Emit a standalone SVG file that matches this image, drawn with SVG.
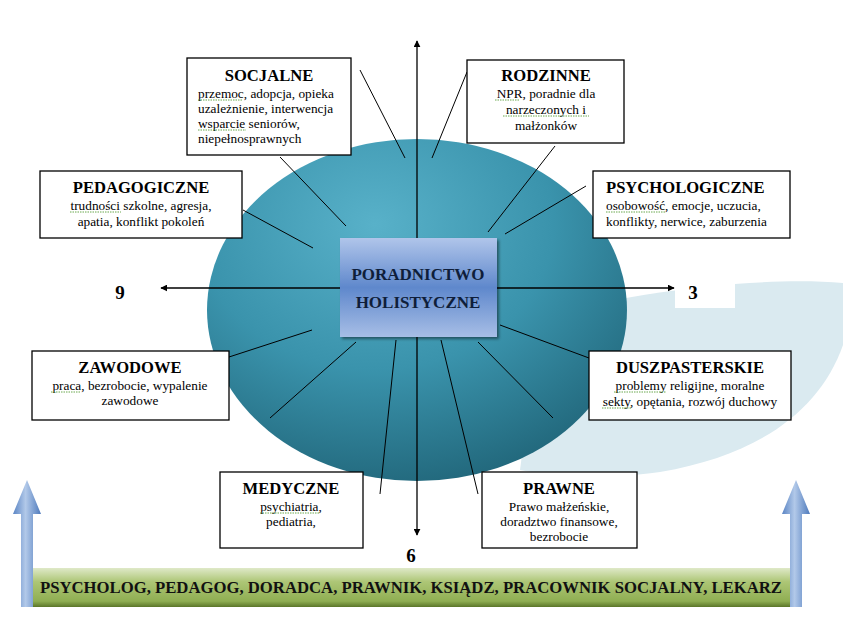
<svg xmlns="http://www.w3.org/2000/svg" width="843" height="623" viewBox="0 0 843 623">
<style>
.box{fill:#fff;stroke:#000;stroke-width:1.3}
.t{font-family:"Liberation Serif","Times New Roman",serif;font-weight:bold;font-size:16.6px;fill:#000;text-anchor:middle}
.b{font-family:"Liberation Serif","Times New Roman",serif;font-size:13.3px;fill:#000;text-anchor:middle}
.l{text-anchor:start}
.ray{stroke:#000;stroke-width:1;fill:none}
.axis{stroke:#000;stroke-width:1.3;fill:none}
.sq{stroke:#6aa84f;stroke-width:1;stroke-dasharray:1.5 1;fill:none}
.num{font-family:"Liberation Serif","Times New Roman",serif;font-weight:bold;font-size:19px;fill:#000;text-anchor:middle}
</style>
<defs>
<radialGradient id="cg" cx="40%" cy="25%" r="85%">
<stop offset="0" stop-color="#58b1c9"/>
<stop offset="0.5" stop-color="#3a93ac"/>
<stop offset="1" stop-color="#1d5f72"/>
</radialGradient>
<linearGradient id="pg" x1="0" y1="0" x2="0" y2="1">
<stop offset="0" stop-color="#b0c5ea"/>
<stop offset="0.5" stop-color="#5f88cc"/>
<stop offset="1" stop-color="#a7bee6"/>
</linearGradient>
<linearGradient id="ag" x1="0" y1="0" x2="1" y2="0">
<stop offset="0" stop-color="#5b85c4"/>
<stop offset="0.45" stop-color="#b2c9e9"/>
<stop offset="1" stop-color="#4f7bbd"/>
</linearGradient>
<linearGradient id="gg" x1="0" y1="0" x2="0" y2="1">
<stop offset="0" stop-color="#dfe9c8"/>
<stop offset="0.35" stop-color="#adc676"/>
<stop offset="0.85" stop-color="#8fae52"/>
<stop offset="1" stop-color="#5b7629"/>
</linearGradient>
<marker id="ah" viewBox="0 0 10 10" refX="9" refY="5" markerWidth="7" markerHeight="7" markerUnits="userSpaceOnUse" orient="auto">
<path d="M0,0 L10,5 L0,10 Z" fill="#000"/>
</marker>
<filter id="sh" x="-10%" y="-10%" width="130%" height="130%">
<feDropShadow dx="2" dy="2" stdDeviation="1.5" flood-color="#000" flood-opacity="0.45"/>
</filter>
</defs>

<g id="background">
<path d="M540,320 C620,292 760,276 843,283 L843,345 C820,410 760,455 660,472 C600,480 560,478 520,470 Z" fill="#daeaf0"/>
<rect x="675" y="280" width="60" height="28" fill="#fff"/>
<ellipse cx="417" cy="310" rx="210" ry="171" fill="url(#cg)"/>
</g>

<g id="connectors">
<line class="ray" x1="360" y1="70" x2="405" y2="158"/>
<line class="ray" x1="467" y1="72" x2="432" y2="158"/>
<line class="ray" x1="280" y1="157" x2="346" y2="226"/>
<line class="ray" x1="243" y1="210" x2="313" y2="248"/>
<line class="ray" x1="555" y1="146" x2="488" y2="232"/>
<line class="ray" x1="586" y1="186" x2="505" y2="234"/>
<line class="ray" x1="229" y1="357" x2="312" y2="330"/>
<line class="ray" x1="270" y1="418" x2="356" y2="342"/>
<line class="ray" x1="396" y1="340" x2="380" y2="494"/>
<line class="ray" x1="441" y1="340" x2="478" y2="494"/>
<line class="ray" x1="478" y1="342" x2="553" y2="418"/>
<line class="ray" x1="500" y1="325" x2="589" y2="358"/>
<line class="axis" x1="417" y1="288" x2="417" y2="41" marker-end="url(#ah)"/>
<line class="axis" x1="417" y1="288" x2="417" y2="535" marker-end="url(#ah)"/>
<line class="axis" x1="417" y1="288" x2="161" y2="288" marker-end="url(#ah)"/>
<line class="axis" x1="417" y1="288" x2="674" y2="288" marker-end="url(#ah)"/>
</g>

<g id="center">
<rect x="340" y="238" width="157" height="99" fill="url(#pg)" filter="url(#sh)"/>
<text class="t" x="418" y="280" style="fill:#0f1e3a;font-size:17px">PORADNICTWO</text>
<text class="t" x="418" y="308" style="fill:#0f1e3a;font-size:17px">HOLISTYCZNE</text>
</g>

<g id="socjalne">
<rect class="box" x="187" y="58" width="164" height="97"/>
<text class="t" x="269" y="81">SOCJALNE</text>
<text class="b l" x="198" y="98">przemoc, adopcja, opieka</text>
<text class="b l" x="198" y="113">uzależnienie, interwencja</text>
<text class="b l" x="198" y="128">wsparcie seniorów,</text>
<text class="b l" x="198" y="143">niepełnosprawnych</text>
<path class="sq" d="M198,100 H243 M198,130 H246"/>
</g>

<g id="rodzinne">
<rect class="box" x="467" y="60" width="157" height="83"/>
<text class="t" x="546" y="81">RODZINNE</text>
<text class="b" x="546" y="98">NPR, poradnie dla</text>
<text class="b" x="546" y="114">narzeczonych i</text>
<text class="b" x="546" y="130">małżonków</text>
<path class="sq" d="M495,100 H519 M503,116 H589"/>
</g>

<g id="pedagogiczne">
<rect class="box" x="40" y="171" width="202" height="67"/>
<text class="t" x="141" y="193">PEDAGOGICZNE</text>
<text class="b" x="141" y="210">trudności szkolne, agresja,</text>
<text class="b" x="141" y="226">apatia, konflikt pokoleń</text>
<path class="sq" d="M70,212 H121"/>
</g>

<g id="psychologiczne">
<rect class="box" x="593" y="171" width="197" height="67"/>
<text class="t l" x="606" y="193">PSYCHOLOGICZNE</text>
<text class="b l" x="606" y="210">osobowość, emocje, uczucia,</text>
<text class="b l" x="606" y="226">konflikty, nerwice, zaburzenia</text>
<path class="sq" d="M606,212 H666"/>
</g>

<g id="zawodowe">
<rect class="box" x="32" y="351" width="197" height="69"/>
<text class="t" x="130" y="373">ZAWODOWE</text>
<text class="b" x="130" y="390">praca, bezrobocie, wypalenie</text>
<text class="b" x="130" y="405">zawodowe</text>
<path class="sq" d="M51,392 H81"/>
</g>

<g id="duszpasterskie">
<rect class="box" x="589" y="351" width="202" height="69"/>
<text class="t" x="690" y="373">DUSZPASTERSKIE</text>
<text class="b" x="690" y="390">problemy religijne, moralne</text>
<text class="b" x="690" y="406">sekty, opętania, rozwój duchowy</text>
<path class="sq" d="M614,392 H666 M602,408 H632"/>
</g>

<g id="medyczne">
<rect class="box" x="220" y="472" width="143" height="76"/>
<text class="t" x="291" y="494">MEDYCZNE</text>
<text class="b" x="291" y="511">psychiatria,</text>
<text class="b" x="291" y="526">pediatria,</text>
<path class="sq" d="M260,513 H319"/>
</g>

<g id="prawne">
<rect class="box" x="482" y="472" width="155" height="76"/>
<text class="t" x="559" y="494">PRAWNE</text>
<text class="b" x="559" y="511">Prawo małżeńskie,</text>
<text class="b" x="559" y="526">doradztwo finansowe,</text>
<text class="b" x="559" y="541">bezrobocie</text>
</g>

<g id="labels">
<text class="num" x="120" y="299">9</text>
<text class="num" x="693" y="299">3</text>
<text class="num" x="411" y="562">6</text>
</g>

<g id="arrows">
<path d="M27,480 L41,514 L33,514 L33,607 L21,607 L21,514 L13,514 Z" fill="url(#ag)"/>
<path d="M796,480 L810,514 L802,514 L802,607 L790,607 L790,514 L782,514 Z" fill="url(#ag)"/>
</g>

<g id="bar">
<rect x="33" y="568" width="757" height="39" fill="url(#gg)"/>
<text x="411" y="593" textLength="742" lengthAdjust="spacingAndGlyphs" style="font-family:'Liberation Serif','Times New Roman',serif;font-weight:bold;font-size:16px;fill:#111;text-anchor:middle">PSYCHOLOG, PEDAGOG, DORADCA, PRAWNIK, KSIĄDZ, PRACOWNIK SOCJALNY, LEKARZ</text>
</g>
</svg>
